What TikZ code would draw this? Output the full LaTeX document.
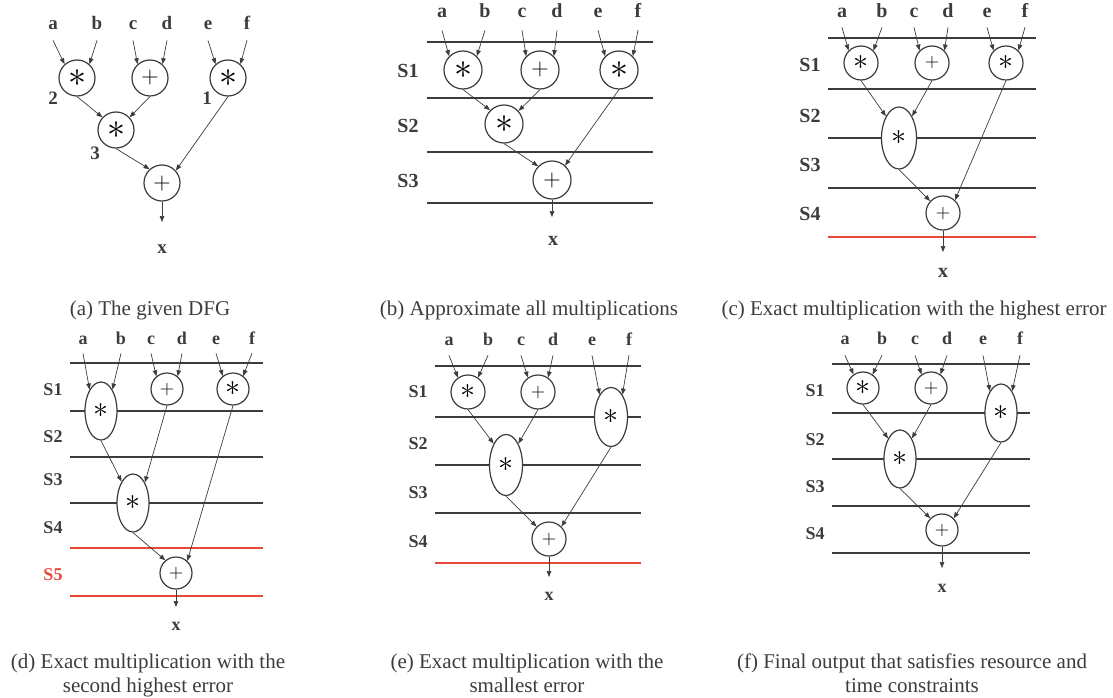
\RequirePackage{fix-cm}
\documentclass[tikz,border=0pt]{standalone}
\usepackage{fontspec}
\setmainfont{Liberation Serif}
\usetikzlibrary{arrows.meta,shapes.geometric}
\definecolor{ink}{HTML}{3C3C3C}
\definecolor{alert}{HTML}{E8483A}
\tikzset{
  inp/.style 2 args={font=\fontsize{#1}{#1}\selectfont\bfseries, text=ink,
    anchor=base, inner xsep=0pt, inner ysep=#2},
  stg/.style={font=\fontsize{#1}{#1}\selectfont\bfseries, text=ink, anchor=base, inner sep=0pt},
  captext/.style={font=\fontsize{21}{24}\selectfont, text=ink, anchor=base, inner sep=0pt},
  opc/.style={circle, draw=ink, line width=1.2pt, fill=white, minimum size=#1, inner sep=0pt},
  ope/.style 2 args={ellipse, draw=ink, line width=1.2pt, fill=white,
    minimum width=#1, minimum height=#2, inner sep=0pt},
  bigop/.style={font=\fontsize{36}{36}\selectfont},
  smallop/.style={font=\fontsize{30}{30}\selectfont},
  bigplus/.style={font=\fontsize{24}{24}\selectfont},
  smallplus/.style={font=\fontsize{20}{20}\selectfont},
  arr/.style={draw=ink, line width=0.7pt, -{Triangle[length=6pt,width=4.5pt]}},
  level/.style={draw=ink, line width=1.4pt},
  redlevel/.style={draw=alert, line width=1.4pt},
}
\begin{document}
\begin{tikzpicture}[x=1pt,y=-1pt]
\useasboundingbox (0,0) rectangle (1113,698);

% ---------------- (a) the given DFG ----------------
\node[inp={19}{10pt}] (aa) at (53,30) {a};
\node[inp={19}{10pt}] (ab) at (97,30) {b};
\node[inp={19}{10pt}] (ac) at (133,30) {c};
\node[inp={19}{10pt}] (ad) at (167,30) {d};
\node[inp={19}{10pt}] (ae) at (208,30) {e};
\node[inp={19}{10pt}] (af) at (247,30) {f};
\node[opc=36pt, bigop] (A1) at (77,78) {$\ast$};
\node[opc=36pt, bigplus] (A2) at (150,78) {$+$};
\node[opc=36pt, bigop] (A3) at (228,78) {$\ast$};
\node[opc=36pt, bigop] (A4) at (116,130) {$\ast$};
\node[opc=36pt, bigplus] (A5) at (162,183) {$+$};
\node[stg=19] (an2) at (53,105) {2};
\node[stg=19] (an1) at (207,105) {1};
\node[stg=19] (an3) at (95,159) {3};
\coordinate (aout) at (162,222);
\node[stg=19] (ax) at (162,253) {x};
\draw[arr] (aa.south) -- (A1.132);
\draw[arr] (ab.south) -- (A1.48);
\draw[arr] (ac.south) -- (A2.132);
\draw[arr] (ad.south) -- (A2.48);
\draw[arr] (ae.south) -- (A3.132);
\draw[arr] (af.south) -- (A3.48);
\draw[arr] (A1.south) -- (A4.137);
\draw[arr] (A2.south) -- (A4.43);
\draw[arr] (A4.south) -- (A5.132);
\draw[arr] (A3.south) -- (A5.42);
\draw[arr] (A5.south) -- (aout);
\node[captext] (capa) at (150,315) {(a) The given DFG};

% ---------------- (b) all multiplications approximate ----------------
\foreach \y in {42,98,152,203} \draw[level] (427,\y) -- (653,\y);
\node[stg=20] (bs1) at (408,78) {S1};
\node[stg=20] (bs2) at (408,132) {S2};
\node[stg=20] (bs3) at (408,187) {S3};
\node[inp={20}{12pt}] (ba) at (442,18) {a};
\node[inp={20}{12pt}] (bb) at (485,18) {b};
\node[inp={20}{12pt}] (bc) at (522,18) {c};
\node[inp={20}{12pt}] (bd) at (557,18) {d};
\node[inp={20}{12pt}] (be) at (598,18) {e};
\node[inp={20}{12pt}] (bf) at (638,18) {f};
\node[opc=38pt, bigop] (B1) at (463,70) {$\ast$};
\node[opc=38pt, bigplus] (B2) at (540,70) {$+$};
\node[opc=38pt, bigop] (B3) at (619,70) {$\ast$};
\node[opc=38pt, bigop] (B4) at (504,124) {$\ast$};
\node[opc=38pt, bigplus] (B5) at (552,180) {$+$};
\coordinate (bout) at (552,217);
\node[stg=20] (bx) at (553,245) {x};
\draw[arr] (ba.south) -- (B1.135);
\draw[arr] (bb.south) -- (B1.45);
\draw[arr] (bc.south) -- (B2.135);
\draw[arr] (bd.south) -- (B2.45);
\draw[arr] (be.south) -- (B3.135);
\draw[arr] (bf.south) -- (B3.45);
\draw[arr] (B1.south) -- (B4.135);
\draw[arr] (B2.south) -- (B4.42);
\draw[arr] (B4.south) -- (B5.135);
\draw[arr] (B3.south) -- (B5.48);
\draw[arr] (B5.south) -- (bout);
\node[captext] (capb) at (529,315) {(b) Approximate all multiplications};

% ---------------- (c) exact multiplication, highest error ----------------
\foreach \y in {38,89,138,188} \draw[level] (828,\y) -- (1036,\y);
\draw[redlevel] (828,237) -- (1036,237);
\node[stg=20] (cs1) at (810,72) {S1};
\node[stg=20] (cs2) at (810,123) {S2};
\node[stg=20] (cs3) at (810,171) {S3};
\node[stg=20] (cs4) at (810,220) {S4};
\node[inp={20}{9pt}] (ca) at (842,18) {a};
\node[inp={20}{9pt}] (cb) at (882,18) {b};
\node[inp={20}{9pt}] (cc) at (914,18) {c};
\node[inp={20}{9pt}] (cd) at (948,18) {d};
\node[inp={20}{9pt}] (ce) at (987,18) {e};
\node[inp={20}{9pt}] (cf) at (1025,18) {f};
\node[opc=34pt, smallop] (C1) at (861,63) {$\ast$};
\node[opc=34pt, smallplus] (C2) at (932,63) {$+$};
\node[opc=34pt, smallop] (C3) at (1006,63) {$\ast$};
\node[ope={35pt}{62pt}, smallop] (C4) at (899,138) {$\ast$};
\node[opc=34pt, smallplus] (C5) at (943,213) {$+$};
\coordinate (cout) at (943,252);
\node[stg=20] (cx) at (943,277) {x};
\draw[arr] (ca.south) -- (C1.135);
\draw[arr] (cb.south) -- (C1.45);
\draw[arr] (cc.south) -- (C2.135);
\draw[arr] (cd.south) -- (C2.45);
\draw[arr] (ce.south) -- (C3.135);
\draw[arr] (cf.south) -- (C3.45);
\draw[arr] (C1.south) -- (C4.121);
\draw[arr] (C2.south) -- (C4.59);
\draw[arr] (C4.south) -- (C5.137);
\draw[arr] (C3.south) -- (C5.47);
\draw[arr] (C5.south) -- (cout);
\node[captext] (capc) at (914,315) {(c) Exact multiplication with the highest error};

% ---------------- (d) exact multiplication, second highest error ----------------
\foreach \y in {363,411,457,503} \draw[level] (70,\y) -- (263,\y);
\foreach \y in {548,596} \draw[redlevel] (70,\y) -- (263,\y);
\node[stg=18] (ds1) at (53,395) {S1};
\node[stg=18] (ds2) at (53,442) {S2};
\node[stg=18] (ds3) at (53,485) {S3};
\node[stg=18] (ds4) at (53,533) {S4};
\node[stg=18, text=alert] (ds5) at (53,580) {S5};
\node[inp={18}{9pt}] (da) at (83,344) {a};
\node[inp={18}{9pt}] (db) at (121,344) {b};
\node[inp={18}{9pt}] (dc) at (151,344) {c};
\node[inp={18}{9pt}] (dd) at (182,344) {d};
\node[inp={18}{9pt}] (de) at (216,344) {e};
\node[inp={18}{9pt}] (df) at (252,344) {f};
\node[ope={32pt}{58pt}, smallop] (D1) at (101,411) {$\ast$};
\node[opc=32pt, smallplus] (D2) at (167,389) {$+$};
\node[opc=32pt, smallop] (D3) at (233,389) {$\ast$};
\node[ope={32pt}{58pt}, smallop] (D4) at (133,503) {$\ast$};
\node[opc=32pt, smallplus] (D5) at (176,573) {$+$};
\coordinate (dout) at (176,607);
\node[stg=18] (dx) at (176,630) {x};
\draw[arr] (da.south) -- (D1.118);
\draw[arr] (db.south) -- (D1.62);
\draw[arr] (dc.south) -- (D2.130);
\draw[arr] (dd.south) -- (D2.50);
\draw[arr] (de.south) -- (D3.128);
\draw[arr] (df.south) -- (D3.52);
\draw[arr] (D1.south) -- (D4.118);
\draw[arr] (D2.south) -- (D4.60);
\draw[arr] (D4.south) -- (D5.130);
\draw[arr] (D3.south) -- (D5.47);
\draw[arr] (D5.south) -- (dout);
\node[captext] (capd1) at (148,668) {(d) Exact multiplication with the};
\node[captext] (capd2) at (148,692) {second highest error};

% ---------------- (e) exact multiplication, smallest error ----------------
\foreach \y in {366,417,465,513} \draw[level] (435,\y) -- (641,\y);
\draw[redlevel] (435,563) -- (641,563);
\node[stg=18] (es1) at (418,397) {S1};
\node[stg=18] (es2) at (418,449) {S2};
\node[stg=18] (es3) at (418,498) {S3};
\node[stg=18] (es4) at (418,547) {S4};
\node[inp={18}{10pt}] (ea) at (449,345) {a};
\node[inp={18}{10pt}] (eb) at (488,345) {b};
\node[inp={18}{10pt}] (ec) at (521,345) {c};
\node[inp={18}{10pt}] (ed) at (553,345) {d};
\node[inp={18}{10pt}] (ee) at (592,345) {e};
\node[inp={18}{10pt}] (ef) at (629,345) {f};
\node[opc=34pt, smallop] (E1) at (468,392) {$\ast$};
\node[opc=34pt, smallplus] (E2) at (538,392) {$+$};
\node[ope={33pt}{59pt}, smallop] (E3) at (611,417) {$\ast$};
\node[ope={33pt}{61pt}, smallop] (E4) at (506,465) {$\ast$};
\node[opc=34pt, smallplus] (E5) at (549,539) {$+$};
\coordinate (eout) at (549,577);
\node[stg=18] (ex) at (549,600) {x};
\draw[arr] (ea.south) -- (E1.125);
\draw[arr] (eb.south) -- (E1.55);
\draw[arr] (ec.south) -- (E2.125);
\draw[arr] (ed.south) -- (E2.55);
\draw[arr] (ee.south) -- (E3.117);
\draw[arr] (ef.south) -- (E3.63);
\draw[arr] (E1.south) -- (E4.120);
\draw[arr] (E2.south) -- (E4.60);
\draw[arr] (E4.south) -- (E5.135);
\draw[arr] (E3.south) -- (E5.45);
\draw[arr] (E5.south) -- (eout);
\node[captext] (cape1) at (527,668) {(e) Exact multiplication with the};
\node[captext] (cape2) at (527,692) {smallest error};

% ---------------- (f) final schedule ----------------
\foreach \y in {364,413,459,506,553} \draw[level] (832,\y) -- (1030,\y);
\node[stg=18] (fs1) at (815,396) {S1};
\node[stg=18] (fs2) at (815,445) {S2};
\node[stg=18] (fs3) at (815,492) {S3};
\node[stg=18] (fs4) at (815,539) {S4};
\node[inp={18}{11pt}] (fa) at (845,344) {a};
\node[inp={18}{11pt}] (fb) at (882,344) {b};
\node[inp={18}{11pt}] (fc) at (915,344) {c};
\node[inp={18}{11pt}] (fd) at (947,344) {d};
\node[inp={18}{11pt}] (fe) at (983,344) {e};
\node[inp={18}{11pt}] (ff) at (1020,344) {f};
\node[opc=32pt, smallop] (F1) at (863,388) {$\ast$};
\node[opc=32pt, smallplus] (F2) at (931,388) {$+$};
\node[ope={32pt}{58pt}, smallop] (F3) at (1001,413) {$\ast$};
\node[ope={32pt}{58pt}, smallop] (F4) at (900,459) {$\ast$};
\node[opc=32pt, smallplus] (F5) at (942,530) {$+$};
\coordinate (fout) at (942,568);
\node[stg=18] (fx) at (942,592) {x};
\draw[arr] (fa.south) -- (F1.125);
\draw[arr] (fb.south) -- (F1.55);
\draw[arr] (fc.south) -- (F2.125);
\draw[arr] (fd.south) -- (F2.55);
\draw[arr] (fe.south) -- (F3.117);
\draw[arr] (ff.south) -- (F3.63);
\draw[arr] (F1.south) -- (F4.120);
\draw[arr] (F2.south) -- (F4.60);
\draw[arr] (F4.south) -- (F5.135);
\draw[arr] (F3.south) -- (F5.45);
\draw[arr] (F5.south) -- (fout);
\node[captext] (capf1) at (912,668) {(f) Final output that satisfies resource and};
\node[captext] (capf2) at (912,692) {time constraints};
\end{tikzpicture}
\end{document}
